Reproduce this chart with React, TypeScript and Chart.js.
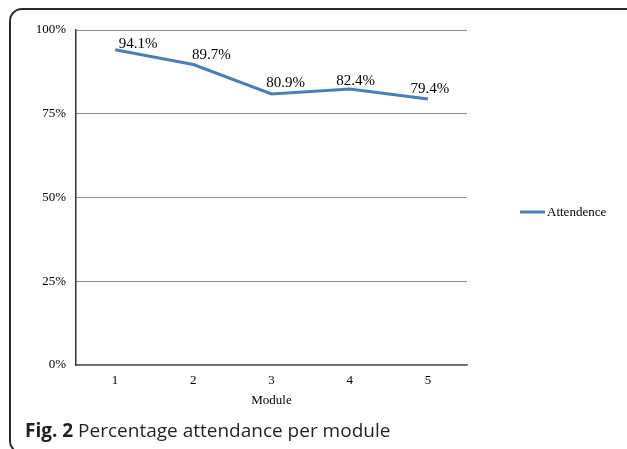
import React, { useEffect, useRef } from "react";
import { Chart, registerables } from "chart.js";

Chart.register(...registerables);

const categories = ["1", "2", "3", "4", "5"];
const attendance = [0.941, 0.897, 0.809, 0.824, 0.794];
const seriesName = "Attendence";
const xTitle = "Module";
const yMin = 0;
const yMax = 1;
const yStep = 0.25;

const SERIF = "'Liberation Serif', 'Times New Roman', serif";
const LINE_COLOR = "#4a7ebb";

const pointLabelPlugin = {
  id: "pointLabels",
  afterDatasetsDraw(chart: any, _args: any, opts: any) {
    const ctx = chart.ctx;
    const meta = chart.getDatasetMeta(0);
    const data = chart.data.datasets[0].data;
    ctx.save();
    ctx.font = opts.font;
    ctx.fillStyle = opts.color;
    ctx.textAlign = "center";
    ctx.textBaseline = "middle";
    meta.data.forEach((pt: any, i: number) => {
      const n = (opts.nudges && opts.nudges[i]) || [12, -9];
      ctx.fillText(`${(data[i] * 100).toFixed(1)}%`, pt.x + n[0], pt.y + n[1]);
    });
    ctx.restore();
  },
};

const sideLegendPlugin = {
  id: "sideLegend",
  afterDraw(chart: any, _args: any, opts: any) {
    const ctx = chart.ctx;
    const ds = chart.data.datasets[0];
    const x = chart.chartArea.right + opts.offsetX;
    const y = opts.y;
    ctx.save();
    ctx.strokeStyle = ds.borderColor;
    ctx.lineWidth = ds.borderWidth;
    ctx.beginPath();
    ctx.moveTo(x, y);
    ctx.lineTo(x + opts.lineLength, y);
    ctx.stroke();
    ctx.font = opts.font;
    ctx.fillStyle = opts.color;
    ctx.textAlign = "left";
    ctx.textBaseline = "middle";
    ctx.fillText(ds.label, x + opts.lineLength + 2, y + 1);
    ctx.restore();
  },
};

export default function App() {
  const canvasRef = useRef<HTMLCanvasElement | null>(null);

  useEffect(() => {
    if (!canvasRef.current) return;
    const chart = new Chart(canvasRef.current, {
      type: "line",
      data: {
        labels: categories,
        datasets: [
          {
            label: seriesName,
            data: attendance,
            borderColor: LINE_COLOR,
            backgroundColor: LINE_COLOR,
            borderWidth: 3,
            pointRadius: 0,
            tension: 0,
            fill: false,
          },
        ],
      },
      plugins: [pointLabelPlugin, sideLegendPlugin],
      options: {
        responsive: false,
        animation: false,
        devicePixelRatio: 1,
        layout: { padding: { top: 30, right: 160, bottom: 0, left: 0 } },
        plugins: {
          legend: { display: false },
          tooltip: { enabled: false },
          pointLabels: {
            font: `15px ${SERIF}`,
            color: "#000",
            nudges: [
              [23, -6],
              [18, -9],
              [14, -11],
              [6, -8],
              [2, -10],
            ],
          },
          sideLegend: {
            offsetX: 53,
            y: 212,
            lineLength: 25,
            font: `13px ${SERIF}`,
            color: "#000",
          },
        } as any,
        scales: {
          x: {
            type: "category",
            offset: true,
            afterFit(scale: any) {
              scale.height = 84;
            },
            grid: { display: true, color: "rgba(0,0,0,0)", drawTicks: false },
            border: { display: true, color: "#666", width: 1.5 },
            ticks: {
              color: "#000",
              padding: 8,
              font: { family: SERIF, size: 13 },
            },
            title: {
              display: true,
              text: xTitle,
              color: "#000",
              font: { family: SERIF, size: 13 },
              padding: { top: 0, bottom: 41 },
            },
          },
          y: {
            min: yMin,
            max: yMax,
            afterFit(scale: any) {
              scale.width = 76;
            },
            grid: { color: "#8c8c8c", lineWidth: 1, drawTicks: false },
            border: { display: true, color: "#333", width: 1.5 },
            ticks: {
              stepSize: yStep,
              color: "#000",
              padding: 10,
              font: { family: SERIF, size: 13 },
              callback: (v: any) => `${Math.round(Number(v) * 100)}%`,
            },
          },
        },
      } as any,
    });
    return () => chart.destroy();
  }, []);

  return (
    <div
      style={{
        position: "fixed",
        left: 0,
        top: 0,
        width: 627,
        height: 449,
        overflow: "hidden",
        background: "#fff",
      }}
    >
      <div
        style={{
          position: "absolute",
          left: 9,
          top: 8,
          width: 640,
          height: 446,
          border: "2px solid #2b2b2b",
          borderRadius: 13,
          boxSizing: "border-box",
        }}
      />
      <canvas
        ref={canvasRef}
        width={627}
        height={449}
        style={{ position: "absolute", left: 0, top: 0, width: 627, height: 449 }}
      />
      <div
        style={{
          position: "absolute",
          left: 25,
          top: 419,
          fontFamily: "'Open Sans', 'Noto Sans', sans-serif",
          fontSize: 19,
          lineHeight: "22px",
          color: "#231f20",
          whiteSpace: "nowrap",
        }}
      >
        <b>Fig. 2</b> Percentage attendance per module
      </div>
    </div>
  );
}
